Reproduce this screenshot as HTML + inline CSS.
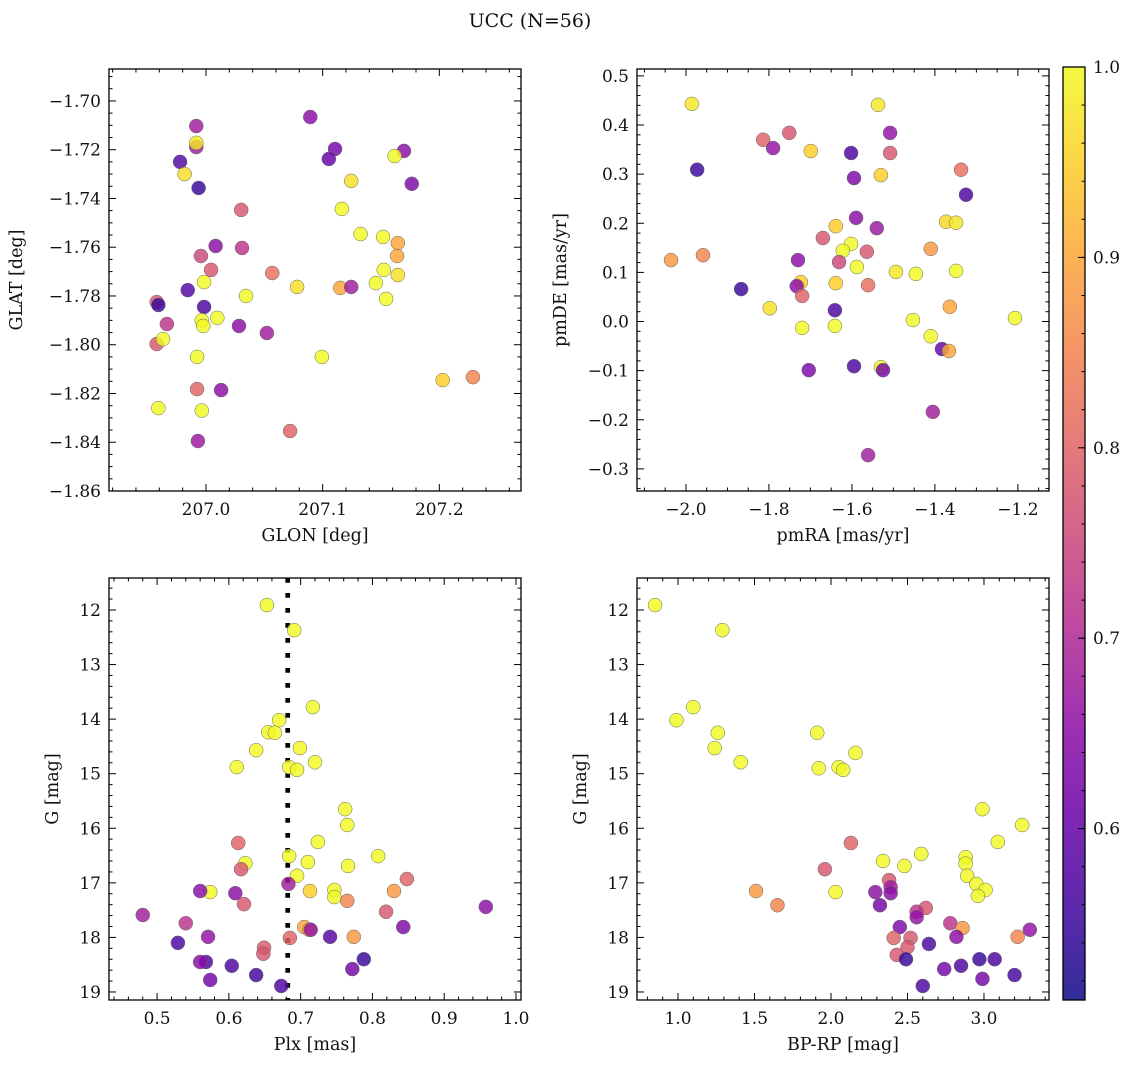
<!DOCTYPE html>
<html><head><meta charset="utf-8"><style>
body{margin:0;background:#fff;}
svg text{font-family:"DejaVu Serif","Liberation Serif",serif;fill:#111;}
</style></head><body>
<svg id="fig" width="1136" height="1067" xmlns="http://www.w3.org/2000/svg">
<text x="530" y="27" font-size="19" text-anchor="middle">UCC (N=56)</text>
</svg>
<script>
// Panel 1: GLON / GLAT
const glon=[207.0894,206.9917,206.9917,206.9917,206.9778,206.9817,206.9937,207.1106,207.1053,207.1697,207.1617,207.1764,207.1245,207.0302,207.1165,207.1325,207.1518,207.1644,207.0309,207.0083,206.9957,207.0044,207.0568,207.1524,207.1644,207.1638,206.9984,207.1456,207.0781,207.1151,207.1245,206.9844,207.0343,206.9984,206.9578,206.9592,207.1544,206.9964,207.0097,206.9977,206.9665,207.0283,207.0522,206.9578,206.9632,206.9924,207.0993,206.9924,207.0130,207.2029,207.2288,206.9592,206.9964,207.0721,206.9931];
const glat=[-1.7066,-1.7103,-1.7189,-1.7172,-1.725,-1.730,-1.7357,-1.7197,-1.7238,-1.7205,-1.7226,-1.734,-1.7328,-1.7447,-1.7443,-1.7546,-1.7558,-1.7583,-1.7603,-1.7595,-1.7636,-1.7693,-1.7706,-1.7693,-1.7714,-1.7636,-1.7743,-1.7747,-1.7763,-1.7767,-1.7763,-1.7776,-1.780,-1.7845,-1.7825,-1.7837,-1.7812,-1.790,-1.789,-1.7923,-1.7915,-1.7923,-1.7952,-1.7997,-1.7977,-1.805,-1.805,-1.8182,-1.8186,-1.8145,-1.8133,-1.826,-1.827,-1.8354,-1.8395];
const prob1=[0.65,0.68,0.68,0.98,0.58,0.97,0.55,0.62,0.60,0.65,1.0,0.63,0.97,0.78,1.0,1.0,1.0,0.90,0.72,0.65,0.75,0.78,0.82,1.0,0.97,0.90,1.0,1.0,0.97,0.90,0.68,0.58,1.0,0.57,0.78,0.55,1.0,1.0,1.0,1.0,0.72,0.65,0.68,0.78,1.0,1.0,1.0,0.80,0.65,0.95,0.85,1.0,1.0,0.80,0.67];
// Panel 2: pmRA / pmDE
const pmra=[-1.986,-1.537,-1.814,-1.751,-1.790,-1.699,-1.602,-1.508,-1.508,-1.973,-1.337,-1.530,-1.595,-1.325,-1.590,-1.540,-1.639,-1.373,-1.349,-1.670,-1.602,-1.622,-1.564,-1.410,-2.036,-1.959,-1.730,-1.631,-1.588,-1.494,-1.446,-1.349,-1.723,-1.733,-1.639,-1.561,-1.720,-1.867,-1.798,-1.641,-1.364,-1.453,-1.207,-1.720,-1.641,-1.410,-1.383,-1.366,-1.530,-1.595,-1.525,-1.704,-1.405,-1.561];
const pmde=[0.443,0.441,0.370,0.384,0.353,0.347,0.343,0.384,0.343,0.309,0.309,0.298,0.292,0.258,0.211,0.190,0.194,0.203,0.201,0.170,0.158,0.144,0.142,0.148,0.125,0.135,0.125,0.121,0.111,0.101,0.097,0.103,0.080,0.072,0.078,0.074,0.052,0.066,0.027,0.023,0.030,0.003,0.007,-0.013,-0.009,-0.030,-0.056,-0.060,-0.093,-0.091,-0.099,-0.099,-0.184,-0.272];
const prob2=[0.98,0.98,0.80,0.78,0.66,0.95,0.57,0.66,0.78,0.55,0.82,0.95,0.63,0.57,0.65,0.67,0.95,0.96,0.98,0.78,1.0,1.0,0.78,0.88,0.88,0.85,0.65,0.75,1.0,0.98,1.0,1.0,0.95,0.65,0.95,0.82,0.80,0.55,0.97,0.57,0.90,1.0,1.0,1.0,1.0,1.0,0.60,0.90,1.0,0.57,0.62,0.63,0.68,0.68];
// Panel 3: Plx / G
const plx=[0.653,0.691,0.717,0.670,0.655,0.664,0.699,0.638,0.720,0.611,0.684,0.695,0.762,0.765,0.724,0.613,0.808,0.684,0.623,0.710,0.766,0.617,0.695,0.848,0.713,0.683,0.747,0.747,0.574,0.560,0.609,0.830,0.480,0.958,0.621,0.765,0.540,0.819,0.843,0.705,0.712,0.714,0.774,0.741,0.571,0.685,0.529,0.649,0.648,0.568,0.560,0.604,0.788,0.772,0.638,0.574,0.673];
const gmag3=[11.91,12.37,13.78,14.02,14.24,14.25,14.53,14.57,14.79,14.88,14.88,14.93,15.65,15.94,16.25,16.27,16.51,16.51,16.64,16.62,16.69,16.75,16.87,16.93,17.15,17.02,17.13,17.26,17.17,17.15,17.19,17.15,17.59,17.44,17.39,17.33,17.74,17.53,17.81,17.81,17.86,17.86,17.99,17.99,17.99,18.01,18.10,18.19,18.30,18.45,18.45,18.52,18.40,18.58,18.69,18.78,18.89];
const prob3=[1.0,1.0,1.0,1.0,1.0,1.0,1.0,1.0,1.0,1.0,1.0,1.0,1.0,1.0,1.0,0.80,1.0,1.0,1.0,1.0,1.0,0.78,1.0,0.80,0.95,0.68,1.0,1.0,1.0,0.65,0.65,0.88,0.68,0.65,0.78,0.85,0.72,0.78,0.63,0.90,0.93,0.66,0.88,0.58,0.66,0.80,0.57,0.78,0.78,0.57,0.65,0.57,0.55,0.62,0.56,0.62,0.57];
// Panel 4: BP-RP / G
const bprp=[0.85,1.29,1.10,0.99,1.26,1.91,1.24,2.16,1.41,1.92,2.05,2.08,2.99,3.25,3.09,2.13,2.59,2.88,2.34,2.48,2.88,1.96,2.89,2.38,2.39,2.95,3.01,2.96,1.51,2.03,2.29,2.39,1.65,2.32,2.62,2.56,2.56,2.78,2.45,2.86,3.30,2.82,3.22,2.41,2.52,2.64,2.50,2.43,2.49,2.97,3.07,2.85,2.74,3.20,2.99,2.60];
const gmag4=[11.91,12.37,13.78,14.02,14.25,14.25,14.53,14.62,14.79,14.90,14.88,14.93,15.65,15.94,16.25,16.27,16.47,16.53,16.60,16.69,16.65,16.75,16.87,16.95,17.08,17.02,17.13,17.24,17.15,17.17,17.17,17.19,17.41,17.41,17.46,17.53,17.63,17.74,17.81,17.83,17.86,17.99,17.99,18.01,18.01,18.12,18.18,18.32,18.40,18.40,18.40,18.52,18.58,18.69,18.76,18.89];
const prob4=[1.0,1.0,1.0,1.0,1.0,1.0,1.0,1.0,1.0,1.0,1.0,1.0,1.0,1.0,1.0,0.80,1.0,1.0,1.0,1.0,1.0,0.78,1.0,0.78,0.68,1.0,1.0,1.0,0.88,1.0,0.65,0.65,0.85,0.62,0.78,0.72,0.66,0.72,0.63,0.88,0.66,0.65,0.85,0.80,0.78,0.57,0.78,0.78,0.55,0.55,0.57,0.57,0.62,0.56,0.62,0.57];
const plxLine=[0.682];
const cbTicks=[0.6,0.7,0.8,0.9,1.0];

const NS="http://www.w3.org/2000/svg";
const svg=document.getElementById('fig');
const plasma=["#0d0887","#41049d","#6a00a8","#8f0da4","#b12a90","#cc4778","#e16462","#f2844b","#fca636","#fcce25","#f0f921"];
const PMIN=0.51,PMAX=1.0;
const TF=17;
function hex(h){return [1,3,5].map(i=>parseInt(h.substr(i,2),16));}
function cmap(p){let t=Math.max(0,Math.min(1,(p-PMIN)/(PMAX-PMIN)))*10;let i=Math.min(9,Math.floor(t));let f=t-i;let a=hex(plasma[i]),b=hex(plasma[i+1]);return `rgb(${a.map((v,k)=>Math.round(v+(b[k]-v)*f)).join(',')})`;}
function el(tag,attrs,parent){const e=document.createElementNS(NS,tag);for(const k in attrs)e.setAttribute(k,attrs[k]);(parent||svg).appendChild(e);return e;}
function fmt(v,d){const s=Math.abs(v).toFixed(d);return (v<-1e-9?'\u2212':'')+s;}

function panel(c){
  const g=el('g',{});
  
  
  const sx=v=>c.x0+(v-c.xmin)/(c.xmax-c.xmin)*c.w;
  const sy=v=>c.inv? c.y0+(v-c.ymin)/(c.ymax-c.ymin)*c.h : c.y0+c.h-(v-c.ymin)/(c.ymax-c.ymin)*c.h;
  const tg=el('g',{stroke:'#000','stroke-width':1},g);
  const nx=c.xn,ny=c.yn;
  for(let k=0;;k++){
    const v=c.xt0+k*c.xstep/nx; if(v>c.xmax+1e-9)break;
    const x=sx(v); if(x<c.x0-0.5||x>c.x0+c.w+0.5)continue;
    const L=k%nx===0?7:3.5;
    el('line',{x1:x,x2:x,y1:c.y0+c.h,y2:c.y0+c.h-L},tg);el('line',{x1:x,x2:x,y1:c.y0,y2:c.y0+L},tg);
    if(k%nx===0){const t=el('text',{x:x,y:c.y0+c.h+24,'font-size':TF,'text-anchor':'middle'},g);t.textContent=fmt(v,c.xd);}
  }
  const ytop=Math.max(c.ymax,c.ymin);
  for(let k=0;;k++){
    const v=c.yt0+k*c.ystep/ny; if(v>ytop+1e-9)break;
    const y=sy(v); if(y<c.y0-0.5||y>c.y0+c.h+0.5)continue;
    const L=k%ny===0?7:3.5;
    el('line',{x1:c.x0,x2:c.x0+L,y1:y,y2:y},tg);el('line',{x1:c.x0+c.w,x2:c.x0+c.w-L,y1:y,y2:y},tg);
    if(k%ny===0){const t=el('text',{x:c.x0-8,y:y+6,'font-size':TF,'text-anchor':'end'},g);t.textContent=fmt(v,c.yd);}
  }
  if(c.vline){for(const v of c.vline){const l=el('line',{x1:sx(v),x2:sx(v),y1:c.y0,y2:c.y0+c.h,stroke:'#000','stroke-width':4.7,'stroke-dasharray':'4.7,10.3'},g);}}
  for(let i=0;i<c.xs.length;i++){
    const p=el('circle',{cx:sx(c.xs[i]),cy:sy(c.ys[i]),r:7,fill:cmap(c.ps[i]),'fill-opacity':0.82,stroke:'#666','stroke-width':0.5},g);
    
    
  }
  el('rect',{x:c.x0,y:c.y0,width:c.w,height:c.h,fill:'none',stroke:'#000','stroke-width':1.3},g);
  const xl=el('text',{x:c.x0+c.w/2,y:c.y0+c.h+50,'font-size':17.5,'text-anchor':'middle'},g);xl.textContent=c.xlabel;
  
  const yx=c.yLabelX,yy=c.y0+c.h/2;
  const yl=el('text',{x:yx,y:yy,'font-size':17.5,'text-anchor':'middle',transform:`rotate(-90 ${yx} ${yy})`},g);yl.textContent=c.ylabel;
  
}
panel({name:'glon-glat-panel',x0:109,y0:69,w:412,h:422,xmin:206.9169,xmax:207.270,ymin:-1.86,ymax:-1.6869,xt0:206.9,xstep:0.1,xn:5,xd:1,yt0:-1.86,ystep:0.02,yn:4,yd:2,xs:glon,ys:glat,ps:prob1,xlabel:'GLON [deg]',ylabel:'GLAT [deg]',yLabelX:22});
panel({name:'pm-panel',x0:637,y0:69,w:412,h:422,xmin:-2.118,xmax:-1.125,ymin:-0.345,ymax:0.514,xt0:-2.2,xstep:0.2,xn:4,xd:1,yt0:-0.4,ystep:0.1,yn:5,yd:1,xs:pmra,ys:pmde,ps:prob2,xlabel:'pmRA [mas/yr]',ylabel:'pmDE [mas/yr]',yLabelX:566});
panel({name:'plx-g-panel',x0:109,y0:578,w:412,h:422,xmin:0.433,xmax:1.007,ymin:11.414,ymax:19.147,inv:true,xt0:0.4,xstep:0.1,xn:5,xd:1,yt0:11,ystep:1,yn:5,yd:0,xs:plx,ys:gmag3,ps:prob3,vline:plxLine,xlabel:'Plx [mas]',ylabel:'G [mag]',yLabelX:58});
panel({name:'cmd-panel',x0:637,y0:578,w:412,h:422,xmin:0.732,xmax:3.425,ymin:11.414,ymax:19.147,inv:true,xt0:0.5,xstep:0.5,xn:5,xd:1,yt0:11,ystep:1,yn:5,yd:0,xs:bprp,ys:gmag4,ps:prob4,xlabel:'BP-RP [mag]',ylabel:'G [mag]',yLabelX:586});

// colorbar
const defs=el('defs',{});
const lg=el('linearGradient',{id:'cbg',x1:0,y1:1,x2:0,y2:0},defs);
plasma.forEach((c,i)=>el('stop',{offset:i/10,'stop-color':c},lg));
const cb=el('g',{});


const CB={x:1063,y:67,w:22,h:933};
const cy=v=>CB.y+CB.h-(v-PMIN)/(PMAX-PMIN)*CB.h;
el('rect',{x:CB.x,y:CB.y,width:CB.w,height:CB.h,fill:'url(#cbg)','fill-opacity':0.85},cb);
for(let v=0.52;v<=1.0001;v+=0.02){const y=cy(v);el('line',{x1:CB.x+CB.w,x2:CB.x+CB.w-3.5,y1:y,y2:y,stroke:'#000'},cb);}
for(const v of cbTicks){const y=cy(v);el('line',{x1:CB.x+CB.w,x2:CB.x+CB.w-7,y1:y,y2:y,stroke:'#000'},cb);
  const t=el('text',{x:CB.x+CB.w+8,y:y+6,'font-size':TF},cb);t.textContent=v.toFixed(1);
  }
el('rect',{x:CB.x,y:CB.y,width:CB.w,height:CB.h,fill:'none',stroke:'#000','stroke-width':1.3},cb);
</script>
</body></html>
